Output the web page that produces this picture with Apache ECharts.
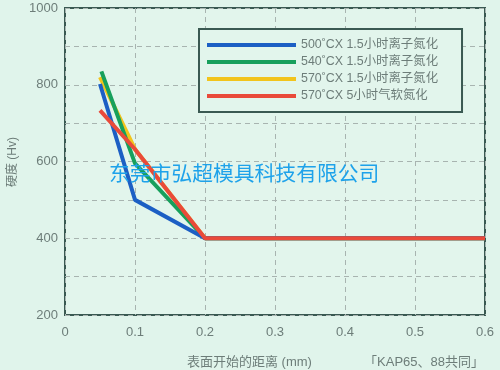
<!DOCTYPE html>
<html><head><meta charset="utf-8">
<script src="https://cdn.jsdelivr.net/npm/echarts@6/dist/echarts.min.js"></script>
<style>html,body{margin:0;padding:0;background:#e0f4eb;}#c{width:500px;height:370px;}</style>
</head><body><div id="c"></div>
<script>
const seriesNames = ['500˚CX 1.5小时离子氮化','540˚CX 1.5小时离子氮化','570˚CX 1.5小时离子氮化','570˚CX 5小时气软氮化'];
const blueX = [0.05, 0.1, 0.2, 0.6];
const blueY = [802, 500, 400, 400];
const greenX = [0.052, 0.1, 0.2, 0.6];
const greenY = [835, 595, 400, 400];
const yellowX = [0.05, 0.1, 0.2, 0.6];
const yellowY = [820, 632, 400, 400];
const redX = [0.05, 0.1, 0.2, 0.6];
const redY = [733, 632, 400, 400];
const xTicks = [0, 0.1, 0.2, 0.3, 0.4, 0.5, 0.6];
const yTicks = [200, 400, 600, 800, 1000];
const colors = ['#1c5fc4','#17a05c','#f2c41c','#e94a3a'];

function pts(xs, ys){ return xs.map((x,i)=>[x, ys[i]]); }
const FONT = '"Liberation Sans", "Noto Sans CJK SC", sans-serif';
const chart = echarts.init(document.getElementById('c'));
const lineSeries = [
  {x: yellowX, y: yellowY, c: colors[2], n: seriesNames[2], z: 2},
  {x: greenX, y: greenY, c: colors[1], n: seriesNames[1], z: 3},
  {x: blueX, y: blueY, c: colors[0], n: seriesNames[0], z: 4},
  {x: redX, y: redY, c: colors[3], n: seriesNames[3], z: 5}
].map(s => ({
  type: 'line', name: s.n, data: pts(s.x, s.y), showSymbol: false, symbol: 'none',
  z: s.z, lineStyle: {color: s.c, width: 4}, itemStyle: {color: s.c}, animation: false
}));
chart.setOption({
  backgroundColor: '#e0f4eb',
  animation: false,
  grid: {left: 65, right: 15, top: 8, bottom: 55, show: true, backgroundColor: '#e2f5ec',
         borderColor: '#3a5952', borderWidth: 2},
  xAxis: {
    type: 'value', min: 0, max: 0.6, interval: 0.1,
    axisLine: {show: false}, axisTick: {show: false},
    axisLabel: {color: '#6d7d79', fontSize: 13, fontFamily: FONT, margin: 11,
      formatter: v => { const t = xTicks.find(k => Math.abs(k - v) < 1e-9); return t === undefined ? '' : String(t); }},
    splitLine: {show: true, lineStyle: {color: '#a8b4b0', type: [5, 4], width: 1}}
  },
  yAxis: {
    type: 'value', min: 200, max: 1000, interval: 100,
    axisLine: {show: false}, axisTick: {show: false},
    axisLabel: {color: '#6d7d79', fontSize: 13, fontFamily: FONT, margin: 7,
      formatter: v => yTicks.includes(v) ? String(v) : ''},
    splitLine: {show: true, lineStyle: {color: '#a8b4b0', type: [5, 4], width: 1}}
  },
  legend: {
    orient: 'vertical', left: 199, top: 29,
    data: seriesNames,
    icon: 'rect', itemWidth: 89, itemHeight: 4, itemGap: 3,
    padding: [9, 24, 9, 8],
    borderColor: '#3a5952', borderWidth: 2, backgroundColor: '#e2f5ec',
    textStyle: {color: '#6d7d79', fontSize: 12.4, fontFamily: FONT, lineHeight: 14, padding: [0,0,0,0]},
    selectedMode: false
  },
  title: [
    {text: '东莞市弘超模具科技有限公司', left: 104, top: 158,
     textStyle: {color: '#1ea2ea', fontSize: 20.8, fontWeight: 'normal', fontFamily: '"Noto Sans CJK SC", sans-serif'}},
    {text: '表面开始的距离 (mm)', left: 182, top: 351,
     textStyle: {color: '#6d7d79', fontSize: 13, fontWeight: 'normal', fontFamily: FONT}},
    {text: '「KAP65、88共同」', right: 11, top: 351,
     textStyle: {color: '#6d7d79', fontSize: 13, fontWeight: 'normal', fontFamily: FONT}}
  ],
  graphic: [
    {type: 'text', left: 7, top: 137, rotation: Math.PI / 2,
     style: {text: '硬度 (Hv)', fill: '#6d7d79', font: '12px ' + FONT}}
  ],
  series: lineSeries
});
</script></body></html>
